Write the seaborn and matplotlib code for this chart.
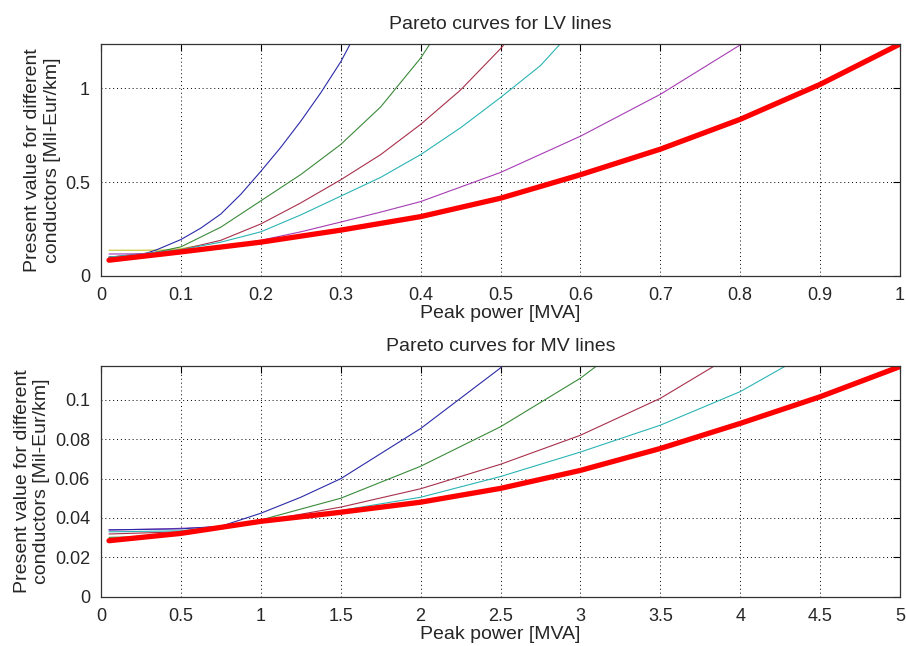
import matplotlib
matplotlib.use("Agg")
import matplotlib.pyplot as plt
import seaborn as sns

# LV curves (peak power in MVA, present value in Mil-Eur/km)
lvBlueX = [0.01, 0.05, 0.07, 0.1, 0.125, 0.15, 0.175, 0.2, 0.225, 0.25, 0.275, 0.3, 0.32]
lvBlueY = [0.10, 0.112, 0.14, 0.194, 0.255, 0.33, 0.435, 0.557, 0.685, 0.824, 0.975, 1.14, 1.30]
lvGreenX = [0.01, 0.05, 0.1, 0.15, 0.2, 0.25, 0.3, 0.35, 0.4, 0.42]
lvGreenY = [0.10, 0.11, 0.155, 0.26, 0.40, 0.54, 0.70, 0.90, 1.16, 1.29]
lvRedX = [0.01, 0.1, 0.15, 0.2, 0.25, 0.3, 0.35, 0.4, 0.45, 0.5, 0.52]
lvRedY = [0.10, 0.14, 0.19, 0.277, 0.389, 0.512, 0.646, 0.807, 0.99, 1.21, 1.31]
lvCyanX = [0.01, 0.1, 0.15, 0.2, 0.25, 0.3, 0.35, 0.4, 0.45, 0.5, 0.55, 0.58]
lvCyanY = [0.10, 0.14, 0.18, 0.235, 0.325, 0.425, 0.525, 0.646, 0.789, 0.95, 1.12, 1.26]
lvPurpleX = [0.01, 0.07, 0.1, 0.15, 0.2, 0.25, 0.3, 0.35, 0.4, 0.5, 0.6, 0.7, 0.8, 0.82]
lvPurpleY = [0.117, 0.118, 0.13, 0.155, 0.19, 0.235, 0.287, 0.34, 0.396, 0.551, 0.744, 0.967, 1.23, 1.29]
lvYellowX = [0.01, 0.05, 0.08, 0.1, 0.12]
lvYellowY = [0.137, 0.137, 0.138, 0.145, 0.16]
lvParetoX = [0.01, 0.1, 0.2, 0.3, 0.4, 0.5, 0.6, 0.7, 0.8, 0.9, 1.0]
lvParetoY = [0.084, 0.128, 0.18, 0.244, 0.316, 0.414, 0.539, 0.675, 0.834, 1.02, 1.235]

# MV curves
mvBlueX = [0.05, 0.5, 0.75, 1.0, 1.25, 1.5, 2.0, 2.5, 2.55]
mvBlueY = [0.034, 0.0345, 0.0358, 0.0424, 0.0505, 0.0599, 0.0853, 0.116, 0.12]
mvGreenX = [0.05, 0.25, 0.5, 0.9, 1.0, 1.5, 2.0, 2.5, 3.0, 3.15]
mvGreenY = [0.0302, 0.0305, 0.033, 0.037, 0.039, 0.05, 0.0662, 0.0862, 0.1108, 0.12]
mvRedX = [0.05, 0.5, 1.0, 1.5, 2.0, 2.5, 3.0, 3.5, 3.9]
mvRedY = [0.0319, 0.033, 0.0383, 0.0455, 0.0548, 0.0672, 0.0819, 0.1006, 0.12]
mvCyanX = [0.05, 0.5, 1.0, 1.5, 2.0, 2.5, 3.0, 3.5, 4.0, 4.35]
mvCyanY = [0.033, 0.0335, 0.0383, 0.0438, 0.0505, 0.061, 0.0734, 0.087, 0.104, 0.12]
mvPurpleX = [0.05, 0.4, 0.75]
mvPurpleY = [0.0339, 0.0345, 0.0355]
mvParetoX = [0.05, 0.5, 1.0, 1.5, 2.0, 2.5, 3.0, 3.5, 4.0, 4.5, 5.0]
mvParetoY = [0.0285, 0.0322, 0.0383, 0.0429, 0.048, 0.055, 0.0641, 0.0752, 0.0879, 0.1014, 0.1167]

lvTicksX = [0, 0.1, 0.2, 0.3, 0.4, 0.5, 0.6, 0.7, 0.8, 0.9, 1]
lvTickLabelsX = ["0", "0.1", "0.2", "0.3", "0.4", "0.5", "0.6", "0.7", "0.8", "0.9", "1"]
lvTicksY = [0, 0.5, 1]
lvTickLabelsY = ["0", "0.5", "1"]
mvTicksX = [0, 0.5, 1, 1.5, 2, 2.5, 3, 3.5, 4, 4.5, 5]
mvTickLabelsX = ["0", "0.5", "1", "1.5", "2", "2.5", "3", "3.5", "4", "4.5", "5"]
mvTicksY = [0, 0.02, 0.04, 0.06, 0.08, 0.1]
mvTickLabelsY = ["0", "0.02", "0.04", "0.06", "0.08", "0.1"]

blue = "#2a2aa8"
green = "#3a8a3a"
red = "#a8304c"
cyan = "#2cb4b4"
purple = "#a63cb4"
yellow = "#c4c428"

sns.set_style("white")
plt.rcParams['font.family'] = ['Liberation Sans', 'DejaVu Sans']

fig = plt.figure(figsize=(9.06, 6.46), dpi=100)
axTop = fig.add_axes([0.1115, 0.5728, 0.8819, 0.3591])
axBot = fig.add_axes([0.1115, 0.0759, 0.8819, 0.3576])

thin = 0.8
thick = 3.8

# Top plot
sns.lineplot(x=lvYellowX, y=lvYellowY, color=yellow, lw=thin, ax=axTop, sort=False)
sns.lineplot(x=lvBlueX, y=lvBlueY, color=blue, lw=thin, ax=axTop, sort=False)
sns.lineplot(x=lvGreenX, y=lvGreenY, color=green, lw=thin, ax=axTop, sort=False)
sns.lineplot(x=lvRedX, y=lvRedY, color=red, lw=thin, ax=axTop, sort=False)
sns.lineplot(x=lvCyanX, y=lvCyanY, color=cyan, lw=thin, ax=axTop, sort=False)
sns.lineplot(x=lvPurpleX, y=lvPurpleY, color=purple, lw=thin, ax=axTop, sort=False)
sns.lineplot(x=lvParetoX, y=lvParetoY, color="#ff0000", lw=thick, ax=axTop, sort=False)

# Bottom plot
sns.lineplot(x=mvPurpleX, y=mvPurpleY, color=purple, lw=thin, ax=axBot, sort=False)
sns.lineplot(x=mvBlueX, y=mvBlueY, color=blue, lw=thin, ax=axBot, sort=False)
sns.lineplot(x=mvGreenX, y=mvGreenY, color=green, lw=thin, ax=axBot, sort=False)
sns.lineplot(x=mvRedX, y=mvRedY, color=red, lw=thin, ax=axBot, sort=False)
sns.lineplot(x=mvCyanX, y=mvCyanY, color=cyan, lw=thin, ax=axBot, sort=False)
sns.lineplot(x=mvParetoX, y=mvParetoY, color="#ff0000", lw=thick, ax=axBot, sort=False)

setups = [
    (axTop, "Pareto curves for LV lines", (0, 1), (0, 1.235), lvTicksX, lvTickLabelsX, lvTicksY, lvTickLabelsY),
    (axBot, "Pareto curves for MV lines", (0, 5), (0, 0.117), mvTicksX, mvTickLabelsX, mvTicksY, mvTickLabelsY),
]
for ax, title, xl, yl, tx, txl, ty, tyl in setups:
    ax.set_xlim(*xl)
    ax.set_ylim(*yl)
    ax.set_xticks(tx)
    ax.set_xticklabels(txl)
    ax.set_yticks(ty)
    ax.set_yticklabels(tyl)
    ax.grid(True, color="black", linestyle=(0, (1, 3)), linewidth=0.7)
    ax.tick_params(direction="in", length=5, width=0.8, color="black", labelsize=13,
                   top=True, right=True)
    ax.tick_params(axis="x", pad=8)
    ax.tick_params(axis="y", pad=8)
    for spine in ax.spines.values():
        spine.set_color("#333333")
        spine.set_linewidth(0.9)
    ax.set_title(title, fontsize=14, pad=11)
    ax.set_xlabel("Peak power [MVA]", fontsize=14, labelpad=1)
    ax.set_ylabel("Present value for different\nconductors [Mil-Eur/km]", fontsize=14, labelpad=3)

fig.savefig("out.png", dpi=100)
